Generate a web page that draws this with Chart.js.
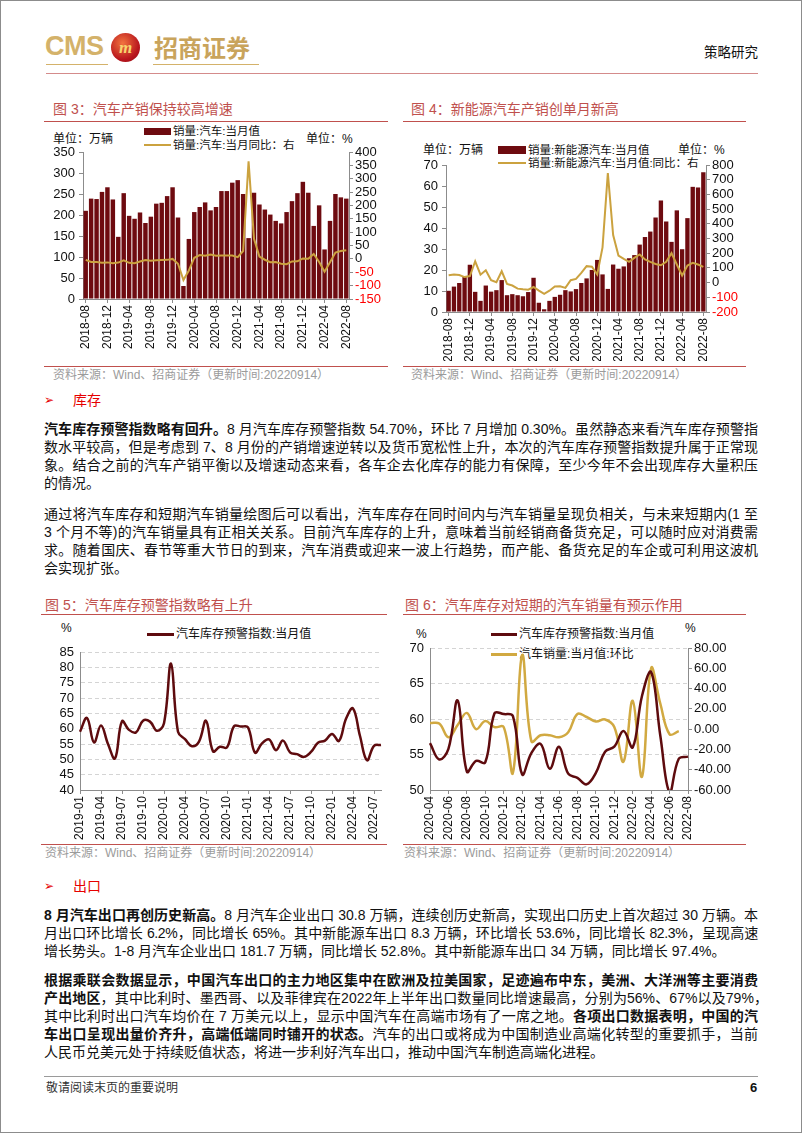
<!DOCTYPE html>
<html lang="zh-CN">
<head>
<meta charset="utf-8">
<title>策略研究</title>
<script src="https://cdn.jsdelivr.net/npm/chart.js@4.4.0/dist/chart.umd.min.js"></script>
<style>
  html, body { margin: 0; padding: 0; background: #fff; }
  #page { position: relative; width: 802px; height: 1133px; overflow: hidden; box-sizing: border-box;
    border: 1px solid #8c8c8c; font-family: "Liberation Sans", "Noto Sans CJK SC", sans-serif; color: #111; }
  #page > div, #page > canvas { position: absolute; }
  .ttl { font-size: 14px; line-height: 18px; color: #C0504D; white-space: nowrap; }
  .rule { height: 1px; background: #C0504D; }
  .src { font-size: 12px; line-height: 16px; color: #9b9b9b; white-space: nowrap; }
  .lg { font-size: 11.5px; line-height: 14px; white-space: nowrap; color: #111; }
  .unit { font-size: 12px; line-height: 14px; white-space: nowrap; color: #111; }
  .p { left: 43px; width: 714px; height: 18px; font-size: 14px; line-height: 18px; text-align: justify; text-align-last: justify; }
  .p.end { text-align-last: left; }
  .h { font-size: 14px; line-height: 18px; color: #E60000; white-space: nowrap; }
  .arrow { font-family: "DejaVu Sans", sans-serif; font-size: 12px; line-height: 18px; color: #E60000; }
</style>
</head>
<body>
<div id="page">
  <!-- header -->
  <div style="left:44px;top:29px;font:bold 27px/32px 'Liberation Sans',sans-serif;color:#D4B26A;letter-spacing:-0.5px;">CMS</div>
  <div style="left:110px;top:32px;width:29px;height:29px;border-radius:50%;background:radial-gradient(circle at 40% 35%,#f2743f,#b8151d 65%,#8a0d12);color:#F7D56E;font:italic bold 17px/29px 'Liberation Serif',serif;text-align:center;">m</div>
  <div style="left:153px;top:30px;font:bold 24px/32px 'Noto Sans CJK SC',sans-serif;color:#C9A45C;">招商证券</div>
  <div style="left:45px;top:63px;width:62px;height:1px;background:#D4B26A;"></div>
  <div style="left:152px;top:63px;width:106px;height:1px;background:#D4B26A;"></div>
  <div style="left:703px;top:43px;font-size:13.5px;line-height:18px;white-space:nowrap;">策略研究</div>
  <div style="left:45px;top:72px;width:712px;height:1px;background:#D48B8B;"></div>

  <!-- figure 3 -->
  <div class="ttl" style="left:52px;top:99px;">图 3：汽车产销保持较高增速</div>
  <div class="rule" style="left:43px;top:120px;width:344px;"></div>
  <div class="unit" style="left:52px;top:131px;">单位：万辆</div>
  <div style="left:143px;top:127px;width:27px;height:7px;background:#6E0B10;"></div>
  <div class="lg" style="left:172px;top:123px;">销量:汽车:当月值</div>
  <div style="left:143px;top:143px;width:27px;height:2px;background:#CBA23F;"></div>
  <div class="lg" style="left:172px;top:137px;">销量:汽车:当月同比：右</div>
  <div class="unit" style="left:305px;top:131px;">单位：%</div>
  <canvas id="c3" width="350" height="215" style="left:40px;top:140px;"></canvas>
  <div class="rule" style="left:43px;top:365px;width:344px;"></div>
  <div class="src" style="left:52px;top:366px;">资料来源：Wind、招商证券（更新时间:20220914）</div>

  <!-- figure 4 -->
  <div class="ttl" style="left:410px;top:99px;">图 4：新能源汽车产销创单月新高</div>
  <div class="rule" style="left:402px;top:120px;width:343px;"></div>
  <div class="unit" style="left:422px;top:142px;">单位：万辆</div>
  <div style="left:497px;top:145px;width:28px;height:8px;background:#6E0B10;"></div>
  <div class="lg" style="left:527px;top:142px;">销量:新能源汽车:当月值</div>
  <div class="unit" style="left:677px;top:142px;">单位：%</div>
  <div style="left:497px;top:161px;width:28px;height:2px;background:#CBA23F;"></div>
  <div class="lg" style="left:527px;top:155px;">销量:新能源汽车:当月值:同比：右</div>
  <canvas id="c4" width="360" height="210" style="left:400px;top:150px;"></canvas>
  <div class="rule" style="left:402px;top:365px;width:343px;"></div>
  <div class="src" style="left:410px;top:366px;">资料来源：Wind、招商证券（更新时间:20220914）</div>

  <!-- section: 库存 -->
  <div class="arrow" style="left:43px;top:390px;">➢</div>
  <div class="h" style="left:72px;top:390px;">库存</div>
  <div class="p" style="top:419px;"><b>汽车库存预警指数略有回升。</b>8 月汽车库存预警指数 54.70%，环比 7 月增加 0.30%。虽然静态来看汽车库存预警指</div>
  <div class="p" style="top:437px;">数水平较高，但是考虑到 7、8 月份的产销增速逆转以及货币宽松性上升，本次的汽车库存预警指数提升属于正常现</div>
  <div class="p" style="top:455px;">象。结合之前的汽车产销平衡以及增速动态来看，各车企去化库存的能力有保障，至少今年不会出现库存大量积压</div>
  <div class="p end" style="top:473px;">的情况。</div>
  <div class="p" style="top:504px;">通过将汽车库存和短期汽车销量绘图后可以看出，汽车库存在同时间内与汽车销量呈现负相关，与未来短期内(1 至</div>
  <div class="p" style="top:522px;">3 个月不等)的汽车销量具有正相关关系。目前汽车库存的上升，意味着当前经销商备货充足，可以随时应对消费需</div>
  <div class="p" style="top:540px;">求。随着国庆、春节等重大节日的到来，汽车消费或迎来一波上行趋势，而产能、备货充足的车企或可利用这波机</div>
  <div class="p end" style="top:558px;">会实现扩张。</div>

  <!-- figure 5 -->
  <div class="ttl" style="left:44px;top:595px;">图 5：汽车库存预警指数略有上升</div>
  <div class="rule" style="left:40px;top:613px;width:346px;"></div>
  <div class="unit" style="left:60px;top:620px;">%</div>
  <div style="left:146px;top:632px;width:27px;height:3px;background:#5E0B0E;"></div>
  <div class="unit" style="left:175px;top:626px;">汽车库存预警指数:当月值</div>
  <canvas id="c5" width="350" height="200" style="left:40px;top:640px;"></canvas>
  <div class="rule" style="left:40px;top:843px;width:346px;"></div>
  <div class="src" style="left:44px;top:844px;">资料来源：Wind、招商证券（更新时间:20220914）</div>

  <!-- figure 6 -->
  <div class="ttl" style="left:404px;top:595px;">图 6：汽车库存对短期的汽车销量有预示作用</div>
  <div class="rule" style="left:402px;top:613px;width:343px;"></div>
  <div class="unit" style="left:415px;top:626px;">%</div>
  <div class="unit" style="left:684px;top:620px;">%</div>
  <div style="left:490px;top:632px;width:26px;height:3px;background:#5E0B0E;"></div>
  <div class="unit" style="left:518px;top:626px;">汽车库存预警指数:当月值</div>
  <div style="left:490px;top:652px;width:26px;height:3px;background:#D1A941;"></div>
  <div class="unit" style="left:518px;top:646px;">汽车销量:当月值:环比</div>
  <canvas id="c6" width="360" height="204" style="left:400px;top:636px;"></canvas>
  <div class="rule" style="left:402px;top:843px;width:343px;"></div>
  <div class="src" style="left:403px;top:844px;">资料来源：Wind、招商证券（更新时间:20220914）</div>

  <!-- section: 出口 -->
  <div class="arrow" style="left:43px;top:876px;">➢</div>
  <div class="h" style="left:72px;top:876px;">出口</div>
  <div class="p" style="top:905px;"><b>8 月汽车出口再创历史新高。</b>8 月汽车企业出口 30.8 万辆，连续创历史新高，实现出口历史上首次超过 30 万辆。本</div>
  <div class="p" style="top:923px;letter-spacing:-0.35px;">月出口环比增长 6.2%，同比增长 65%。其中新能源车出口 8.3 万辆，环比增长 53.6%，同比增长 82.3%，呈现高速</div>
  <div class="p end" style="top:941px;">增长势头。1-8 月汽车企业出口 181.7 万辆，同比增长 52.8%。其中新能源车出口 34 万辆，同比增长 97.4%。</div>
  <div class="p" style="top:970px;"><b>根据乘联会数据显示，中国汽车出口的主力地区集中在欧洲及拉美国家，足迹遍布中东，美洲、大洋洲等主要消费</b></div>
  <div class="p" style="top:988px;width:724px;"><b>产出地区</b>，其中比利时、墨西哥、以及菲律宾在2022年上半年出口数量同比增速最高，分别为56%、67%以及79%，</div>
  <div class="p" style="top:1006px;">其中比利时出口汽车均价在 7 万美元以上，显示中国汽车在高端市场有了一席之地。<b>各项出口数据表明，中国的汽</b></div>
  <div class="p" style="top:1024px;"><b>车出口呈现出量价齐升，高端低端同时铺开的状态。</b>汽车的出口或将成为中国制造业高端化转型的重要抓手，当前</div>
  <div class="p end" style="top:1042px;">人民币兑美元处于持续贬值状态，将进一步利好汽车出口，推动中国汽车制造高端化进程。</div>

  <!-- footer -->
  <div style="left:43px;top:1075px;width:714px;height:1px;background:#9a9a9a;"></div>
  <div style="left:45px;top:1079px;font-size:12px;line-height:16px;color:#333;white-space:nowrap;">敬请阅读末页的重要说明</div>
  <div style="left:749px;top:1078px;font:bold 13px/18px 'Liberation Sans',sans-serif;">6</div>
</div>

<script>
// months 2018-08 .. 2022-08
const monthsA = [
  '2018-08','2018-09','2018-10','2018-11','2018-12',
  '2019-01','2019-02','2019-03','2019-04','2019-05','2019-06','2019-07','2019-08','2019-09','2019-10','2019-11','2019-12',
  '2020-01','2020-02','2020-03','2020-04','2020-05','2020-06','2020-07','2020-08','2020-09','2020-10','2020-11','2020-12',
  '2021-01','2021-02','2021-03','2021-04','2021-05','2021-06','2021-07','2021-08','2021-09','2021-10','2021-11','2021-12',
  '2022-01','2022-02','2022-03','2022-04','2022-05','2022-06','2022-07','2022-08'
];

// fig 3: car sales (万辆) and yoy (%)
const carSales = [210, 239, 238, 255, 266,
  237, 148, 252, 198, 191, 206, 181, 196, 227, 229, 245, 266,
  194, 31, 143, 207, 219, 230, 211, 219, 257, 257, 277, 283,
  250, 145, 253, 225, 213, 201, 186, 180, 207, 233, 252, 279,
  253, 174, 223, 118, 186, 250, 242, 239];
const carYoy = [-3.8, -11.6, -11.7, -13.9, -13.0,
  -15.8, -13.8, -5.2, -14.6, -16.4, -9.6, -4.3, -6.9, -5.2, -4.0, -3.6, -0.1,
  -18.0, -79.1, -43.3, 4.4, 14.5, 11.6, 16.4, 11.6, 12.8, 12.5, 12.6, 6.4,
  29.5, 364.9, 74.9, 8.6, -3.1, -12.4, -11.9, -17.8, -19.6, -9.4, -9.1, 1.7,
  0.9, 18.7, -11.7, -47.6, -12.6, 23.8, 29.7, 32.1];

// fig 4: NEV sales (万辆) and yoy (%)
const nevSales = [10.1, 12.1, 13.8, 16.9, 22.5,
  9.6, 5.3, 12.6, 9.7, 10.4, 15.2, 8.0, 8.5, 8.0, 7.5, 9.5, 16.3,
  4.4, 1.3, 5.3, 7.2, 8.2, 10.4, 9.8, 10.9, 13.8, 16.0, 20.0, 24.8,
  17.9, 11.0, 22.6, 20.6, 21.7, 25.6, 27.1, 32.1, 35.7, 38.3, 45.0, 53.1,
  43.1, 33.4, 48.4, 29.9, 44.7, 59.6, 59.3, 66.6];
const nevYoy = [49.5, 54.8, 51.0, 37.6, 44.6,
  145, 54, 84, 16, 2, 77, -9, -20, -41, -46, -48, -30,
  -55, -77, -55, -27, -25, -36, 16, 25, 66, 112, 108, 55,
  240, 745, 323, 184, 161, 141, 168, 191, 157, 141, 127, 118,
  141, 200, 123, 48, 116, 134, 123, 107];

// fig 5: inventory warning index 2019-01 .. 2022-08 (%)
const monthsB = monthsA.slice(5);
const stockIdx = [59.0, 63.5, 55.5, 61.0, 55.0, 50.3, 62.4, 59.6, 58.8, 62.6, 62.3, 59.3,
  61.8, 81.2, 59.0, 56.6, 54.3, 55.8, 62.6, 52.6, 54.1, 53.9, 60.8, 60.7,
  60.4, 52.2, 55.2, 56.5, 53.0, 56.1, 52.3, 51.7, 50.8, 52.4, 55.4, 56.1,
  58.3, 56.0, 63.2, 66.6, 57.6, 49.7, 54.4, 54.7];

// fig 6: 2020-04 .. 2022-08
const monthsC = monthsA.slice(20);
const stockIdxC = stockIdx.slice(15);
const salesMom = [6, 5.5, -8, 4, 16, 0, 8, 2, 2,
  -43, 73, -12, -6, -6, -8, -3, 15, 12, 7.5, 9.5, 2,
  -32, 28, -47, 60, 25, -5, -2, null];

// axis tick values
const ticks3L = [0, 50, 100, 150, 200, 250, 300, 350];
const ticks3R = [-150, -100, -50, 0, 50, 100, 150, 200, 250, 300, 350, 400];
const ticks4L = [0, 10, 20, 30, 40, 50, 60, 70];
const ticks4R = [-200, -100, 0, 100, 200, 300, 400, 500, 600, 700, 800];
const ticks5 = [40, 45, 50, 55, 60, 65, 70, 75, 80, 85];
const ticks6L = [50, 55, 60, 65, 70];
const ticks6R = [-60, -40, -20, 0, 20, 40, 60, 80];

const MAROON = '#6E0B10';
const GOLD = '#CBA23F';
const DARK = '#5E0B0E';
const GOLD2 = '#D1A941';
const AXIS = '#8c8c8c';
const NONE = 'rgba(0,0,0,0)';

Chart.defaults.font.family = '"Liberation Sans", Arial, sans-serif';
Chart.defaults.font.size = 13;
Chart.defaults.color = '#111';
Chart.defaults.animation = false;
Chart.defaults.plugins.legend.display = false;
Chart.defaults.plugins.tooltip.enabled = false;

// pin axis boxes so the plot area lands where the reference has it
const box = (w, h) => s => {
  if (w !== undefined) s.width = w;
  if (h !== undefined) s.height = h;
  s.paddingLeft = s.paddingRight = s.paddingTop = s.paddingBottom = 0;
};
const fixTicks = vals => s => { s.ticks = vals.map(v => ({ value: v })); };
const xTicks = (labels, n) => ({
  autoSkip: false, minRotation: 90, maxRotation: 90, padding: 2, font: { size: 12 },
  callback: (v, i) => (i % n === 0 ? labels[i] : '')
});
const xGrid = n => ({ offset: false, drawOnChartArea: false, tickLength: 4, color: c => (c.index % n === 0 ? AXIS : NONE) });
const redNeg = c => (c.tick && c.tick.value < 0 ? '#FF0000' : '#111');

// fig 3
new Chart(document.getElementById('c3'), {
  type: 'bar',
  data: {
    labels: monthsA,
    datasets: [
      { type: 'line', label: '销量:汽车:当月同比', data: carYoy, yAxisID: 'yR', borderColor: GOLD, borderWidth: 2, pointRadius: 0, tension: 0 },
      { type: 'bar', label: '销量:汽车:当月值', data: carSales, yAxisID: 'yL', backgroundColor: MAROON, categoryPercentage: 0.82, barPercentage: 1 }
    ]
  },
  options: {
    responsive: false,
    layout: { padding: { top: 11 } },
    scales: {
      x: { offset: true, grid: xGrid(4), border: { color: AXIS }, ticks: xTicks(monthsA, 4), afterFit: box(undefined, 57) },
      yL: { position: 'left', min: 0, max: 350, ticks: { padding: 4, autoSkip: false }, afterBuildTicks: fixTicks(ticks3L),
        grid: { drawOnChartArea: false, tickLength: 4, color: AXIS }, border: { color: AXIS }, afterFit: box(42) },
      yR: { position: 'right', min: -150, max: 400, ticks: { padding: 2, autoSkip: false, color: redNeg }, afterBuildTicks: fixTicks(ticks3R),
        grid: { drawOnChartArea: false, tickLength: 4, color: AXIS }, border: { color: AXIS }, afterFit: box(42) }
    }
  }
});

// fig 4
new Chart(document.getElementById('c4'), {
  type: 'bar',
  data: {
    labels: monthsA,
    datasets: [
      { type: 'line', label: '销量:新能源汽车:当月值:同比', data: nevYoy, yAxisID: 'yR', borderColor: GOLD, borderWidth: 2, pointRadius: 0, tension: 0 },
      { type: 'bar', label: '销量:新能源汽车:当月值', data: nevSales, yAxisID: 'yL', backgroundColor: MAROON, categoryPercentage: 0.82, barPercentage: 1 }
    ]
  },
  options: {
    responsive: false,
    layout: { padding: { top: 14 } },
    scales: {
      x: { offset: true, grid: xGrid(4), border: { color: AXIS }, ticks: xTicks(monthsA, 4), afterFit: box(undefined, 49) },
      yL: { position: 'left', min: 0, max: 70, ticks: { padding: 4, autoSkip: false }, afterBuildTicks: fixTicks(ticks4L),
        grid: { drawOnChartArea: false, tickLength: 4, color: AXIS }, border: { color: AXIS }, afterFit: box(45) },
      yR: { position: 'right', min: -200, max: 800, ticks: { padding: 2, autoSkip: false, color: redNeg }, afterBuildTicks: fixTicks(ticks4R),
        grid: { drawOnChartArea: false, tickLength: 4, color: AXIS }, border: { color: AXIS }, afterFit: box(55) }
    }
  }
});

// fig 5
new Chart(document.getElementById('c5'), {
  type: 'line',
  data: {
    labels: monthsB,
    datasets: [{ label: '汽车库存预警指数:当月值', data: stockIdx, borderColor: DARK, borderWidth: 2.5, pointRadius: 0, tension: 0.4 }]
  },
  options: {
    responsive: false,
    layout: { padding: { top: 11, right: 10 } },
    scales: {
      x: { offset: false, grid: xGrid(3), border: { color: AXIS }, ticks: xTicks(monthsB, 3), afterFit: box(undefined, 51) },
      y: { min: 40, max: 85, ticks: { padding: 6, autoSkip: false }, afterBuildTicks: fixTicks(ticks5),
        grid: { color: '#d4d4d4', drawTicks: false }, border: { color: AXIS, dash: [4, 3] }, afterFit: box(39) }
    }
  }
});

// fig 6
new Chart(document.getElementById('c6'), {
  type: 'line',
  data: {
    labels: monthsC,
    datasets: [
      { label: '汽车库存预警指数:当月值', data: stockIdxC, yAxisID: 'y', borderColor: DARK, borderWidth: 2.5, pointRadius: 0, tension: 0.4 },
      { label: '汽车销量:当月值:环比', data: salesMom, yAxisID: 'y1', borderColor: GOLD2, borderWidth: 2.5, pointRadius: 0, tension: 0.4 }
    ]
  },
  options: {
    responsive: false,
    layout: { padding: { top: 11 } },
    scales: {
      x: { offset: false, grid: xGrid(2), border: { color: AXIS }, ticks: xTicks(monthsC, 2), afterFit: box(undefined, 51) },
      y: { position: 'left', min: 50, max: 70, afterBuildTicks: fixTicks(ticks6L),
        ticks: { padding: 6, autoSkip: false },
        grid: { color: '#d4d4d4', drawTicks: false }, border: { color: AXIS, dash: [4, 3] }, afterFit: box(29) },
      y1: { position: 'right', min: -60, max: 80, afterBuildTicks: fixTicks(ticks6R),
        ticks: { padding: 2, autoSkip: false, callback: v => v.toFixed(2) },
        grid: { drawOnChartArea: false, tickLength: 4, color: AXIS }, border: { color: AXIS }, afterFit: box(73) }
    }
  }
});
</script>
</body>
</html>
